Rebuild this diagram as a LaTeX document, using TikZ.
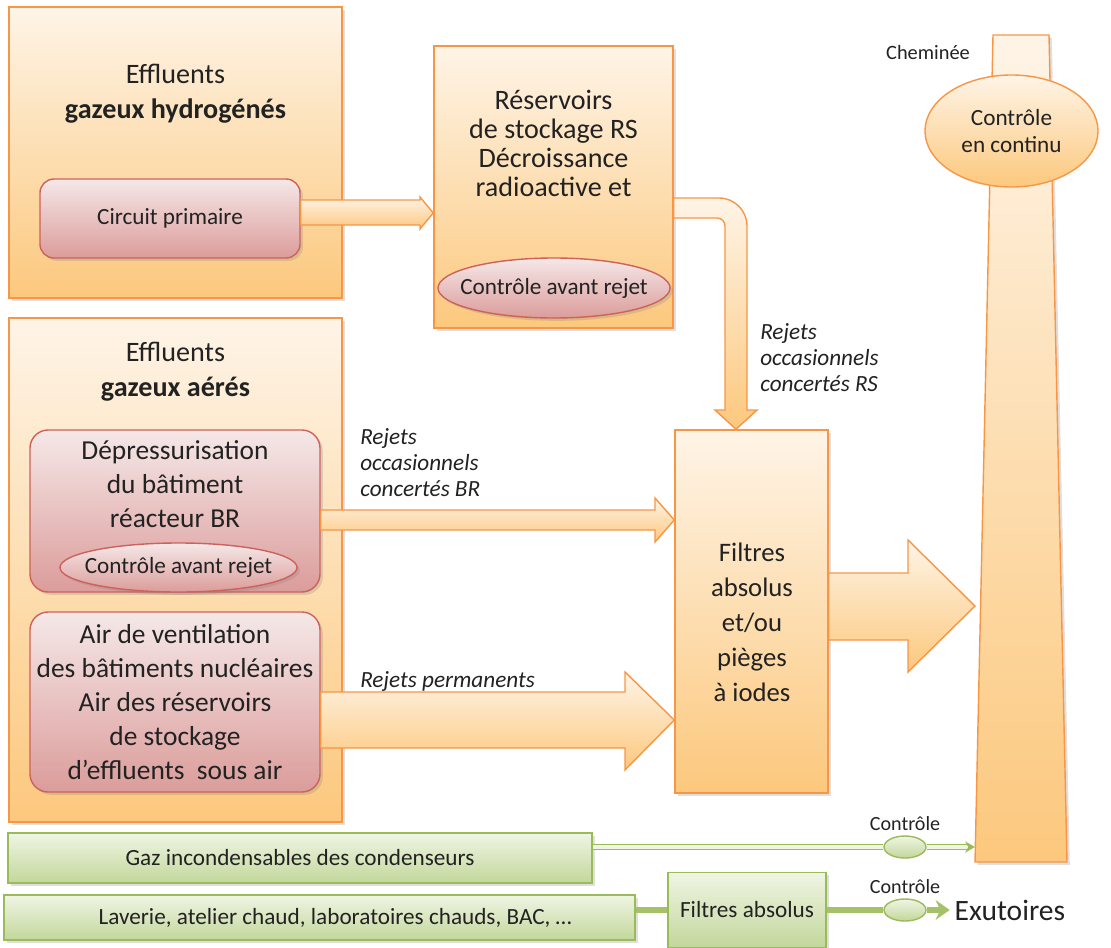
\documentclass[tikz,border=0pt]{standalone}
\usepackage{fontspec}
\setmainfont{Carlito}
\usepackage{tikz}
\usetikzlibrary{shapes.geometric, arrows.meta, positioning, calc, shadows}

\definecolor{orline}{HTML}{F79646}
\definecolor{ortop}{HTML}{FEF4E7}
\definecolor{orbot}{HTML}{FCC87D}
\definecolor{redline}{HTML}{CF615D}
\definecolor{redtop}{HTML}{F5E8E8}
\definecolor{redbot}{HTML}{DB9C9A}
\definecolor{grline}{HTML}{9BBB59}
\definecolor{grtop}{HTML}{EFF5E4}
\definecolor{grbot}{HTML}{C3D79B}
\definecolor{txt}{HTML}{222222}

\begin{document}
\begin{tikzpicture}[
    x=0.025cm, y=-0.025cm,
    font=\fontsize{16.5}{19}\selectfont,
    every node/.style={text=txt},
    boxshadow/.style={drop shadow={opacity=0.25, shadow xshift=2pt, shadow yshift=-2pt}},
    orbox/.style={rectangle, draw=orline, line width=1pt, top color=ortop, bottom color=orbot, boxshadow, inner sep=0pt},
    redbox/.style={rectangle, rounded corners=13pt, draw=redline, line width=1pt, top color=redtop, bottom color=redbot, boxshadow, align=center, inner sep=0pt},
    redoval/.style={ellipse, draw=redline, line width=1pt, top color=redtop, bottom color=redbot, boxshadow, inner sep=0pt},
    oroval/.style={ellipse, draw=orline, line width=1pt, top color=ortop, bottom color=orbot, align=center, inner sep=0pt},
    grbox/.style={rectangle, draw=grline, line width=1pt, top color=grtop, bottom color=grbot, boxshadow, inner sep=0pt},
    groval/.style={ellipse, draw=grline, line width=1pt, top color=grtop, bottom color=grbot, inner sep=0pt, minimum width=1.05cm, minimum height=0.55cm},
    title/.style={align=center, font=\fontsize{20}{25}\selectfont},
    bigtext/.style={align=center, font=\fontsize{19.5}{24.2}\selectfont},
    remark/.style={align=left, inner sep=0pt, anchor=west, font=\fontsize{16.5}{18.5}\selectfont\itshape},
    flow/.style={draw=orline, line width=1pt, top color=ortop, bottom color=orbot},
    grdouble/.style={draw=grline, line width=1pt, double=grtop, double distance=2.5pt},
    grthick/.style={draw=grline!90!white, line width=4pt}
]
\useasboundingbox (0,0) rectangle (1111,947);

% Chimney
\path[flow, boxshadow] (993,35) -- (1049,35) -- (1067,862) -- (975,862) -- cycle;
\coordinate (chimin) at (975,606);
\coordinate (chimbase) at (975,847);

% Nodes
\node (hyd) [orbox, minimum width=8.325cm, minimum height=7.275cm] at (175.5,152.5) {};
\node (hydtitle) [title] at (175.5,94) {Effluents\\\textbf{gazeux hydrogénés}};
\node (circ) [redbox, rounded corners=10pt, minimum width=6.5cm, minimum height=1.975cm] at (170,218.5) {Circuit primaire};

\node (rs) [orbox, minimum width=5.975cm, minimum height=7.05cm] at (553.5,187) {};
\node (rstext) [align=center, font=\fontsize{20}{20.6}\selectfont] at (553.5,143) {Réservoirs\\de stockage RS\\Décroissance\\radioactive et};
\node (rsctl) [redoval, minimum width=5.8cm, minimum height=1.5cm, label=center:Contrôle avant rejet] at (554,288) {};

\node (aer) [orbox, minimum width=8.325cm, minimum height=12.6cm] at (175.5,570) {};
\node (aertitle) [title] at (175.5,372) {Effluents\\\textbf{gazeux aérés}};
\node (depr) [redbox, minimum width=7.25cm, minimum height=4.05cm] at (175,511) {};
\node (deprtext) [bigtext] at (175,484) {Dépressurisation\\du bâtiment\\réacteur BR};
\node (deprctl) [redoval, minimum width=5.925cm, minimum height=1.225cm, label=center:Contrôle avant rejet] at (178.5,567.5) {};
\node (vent) [redbox, bigtext, minimum width=7.25cm, minimum height=4.5cm] at (175,702) {Air de ventilation\\des bâtiments nucléaires\\Air des réservoirs\\de stockage\\d’effluents~ sous air};

\node (filt) [orbox, minimum width=3.825cm, minimum height=9.075cm] at (751.5,611.5) {};
\node (filttext) [align=center, font=\fontsize{19}{24.9}\selectfont] at (752,622) {Filtres\\absolus\\et/ou\\pièges\\à iodes};

\node (chimctl) [oroval, minimum width=4.325cm, minimum height=2.8cm] at (1011.5,131) {Contrôle\\en continu};
\node (chimlabel) [font=\fontsize{14.5}{17}\selectfont] at (928,52) {Cheminée};

\node (gaz) [grbox, minimum width=14.6cm, minimum height=1.25cm] at (300,858) {Gaz incondensables des condenseurs};
\node (lav) [grbox, minimum width=15.775cm, minimum height=1.125cm] at (319.5,917.5) {\hspace*{0.78cm}Laverie, atelier chaud, laboratoires chauds, BAC, …};
\node (fa) [grbox, minimum width=3.95cm, minimum height=1.875cm] at (747,910) {Filtres absolus};

\node (ctlA) [groval] at (905,847) {};
\node (ctlAlabel) [above=0pt of ctlA, font=\fontsize{14.3}{17}\selectfont] {Contrôle};
\node (ctlB) [groval] at (905,910) {};
\node (ctlBlabel) [above=0pt of ctlB, font=\fontsize{14.3}{17}\selectfont] {Contrôle};
\node (exu) [right=0.575cm of ctlB, font=\fontsize{21}{25}\selectfont] {Exutoires};

% Labels
\node (lblrs) [remark] at (760,358) {Rejets\\occasionnels\\concertés RS};
\node (lblbr) [remark] at (360,463) {Rejets\\occasionnels\\concertés BR};
\node (lblperm) [remark] at (360,681) {Rejets permanents};

% Block arrows
\path[flow] (circ.east |- 0,200) -- (420,200) -- (420,197) -- (rs.west |- 0,213) -- (420,229) -- (420,225) -- (circ.east |- 0,225) -- cycle;
\path[flow] (rs.east |- 0,198) -- (719,198) arc[start angle=-90, end angle=0, radius=28] -- (747,410) -- (757,410) -- (736,0 |- filt.north) -- (715,410) -- (725,410) -- (725,226) arc[start angle=0, end angle=-90, radius=8] -- (rs.east |- 0,218) -- cycle;
\path[flow] (depr.east |- 0,510) -- (655,510) -- (655,498) -- (filt.west |- 0,520) -- (655,542) -- (655,530) -- (depr.east |- 0,530) -- cycle;
\path[flow] (vent.east |- 0,692) -- (625,692) -- (625,672) -- (filt.west |- 0,720) -- (625,770) -- (625,748) -- (vent.east |- 0,748) -- cycle;
\path[flow] (filt.east |- 0,573) -- (908,573) -- (908,540) -- (chimin) -- (908,672) -- (908,640) -- (filt.east |- 0,640) -- cycle;

% Green lines
\draw[grdouble] (gaz.east |- ctlA) -- (ctlA);
\draw[grdouble, -{Stealth[length=7pt, width=8pt]}] (ctlA) -- (chimbase);
\draw[grthick] (lav.east |- fa) -- (fa);
\draw[grthick] (fa) -- (ctlB);
\draw[grthick, -{Stealth[length=10pt, width=14pt]}] (ctlB) -- (exu);

\end{tikzpicture}
\end{document}
